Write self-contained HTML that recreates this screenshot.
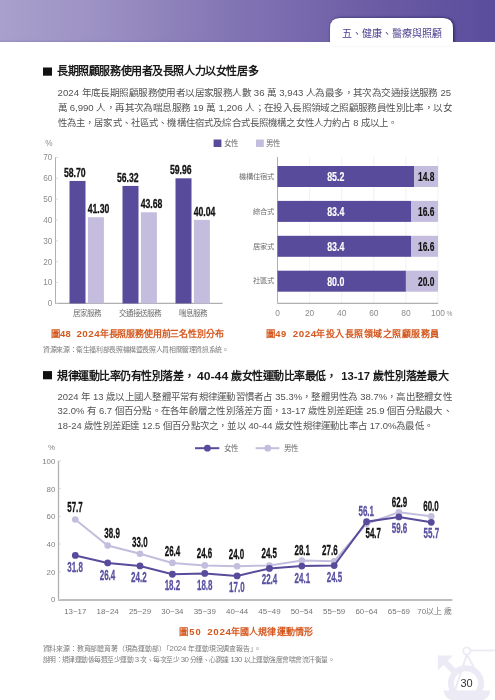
<!DOCTYPE html>
<html lang="zh-TW">
<head>
<meta charset="utf-8">
<style>
html,body{margin:0;padding:0;background:#fff;}
body{width:495px;height:700px;overflow:hidden;}
svg{display:block;font-family:"Liberation Sans", sans-serif;will-change:transform;}
</style>
</head>
<body>
<svg width="495" height="700" viewBox="0 0 495 700">
<defs>
<linearGradient id="hg" x1="0" y1="0" x2="1" y2="0">
<stop offset="0" stop-color="#a9a0cd"/><stop offset="0.2" stop-color="#9c91c3"/><stop offset="0.45" stop-color="#8477b5"/><stop offset="0.67" stop-color="#7363aa"/><stop offset="0.78" stop-color="#6a5aa4"/><stop offset="1" stop-color="#5a4d9c"/>
</linearGradient>
<filter id="sh" x="-10%" y="-30%" width="120%" height="160%"><feGaussianBlur stdDeviation="1.6"/></filter>
<filter id="sh2" x="-10%" y="-100%" width="120%" height="400%"><feGaussianBlur stdDeviation="1"/></filter>
</defs>
<rect x="0" y="0" width="495" height="42" fill="url(#hg)"/>
<rect x="0" y="41" width="495" height="2" fill="#6d5fa8" opacity="0.35" filter="url(#sh2)"/>
<path d="M330,44 V28 Q330,18 340,18 H443 Q453,18 453,28 V44 Z" fill="#1d1450" opacity="0.85" filter="url(#sh)" transform="translate(1,0)"/>
<path d="M330,44 V28 Q330,18 340,18 H443 Q453,18 453,28 V44 Z" fill="#fff"/>
<rect x="0" y="42" width="495" height="4" fill="#fff"/>
<text x="342" y="36.5" font-size="10" fill="#4a3e8c" textLength="100" lengthAdjust="spacingAndGlyphs">五、健康、醫療與照顧</text>
<rect x="43" y="67.5" width="9" height="8.2" fill="#111"/>
<text x="57.0" y="75.4" font-size="11" fill="#1a1a1a" font-weight="bold" textLength="201.6" lengthAdjust="spacing">長期照顧服務使用者及長照人力以女性居多</text>
<text x="57.6" y="95.9" font-size="9.2" fill="#525252" textLength="393.6" lengthAdjust="spacingAndGlyphs">2024 年底長期照顧服務使用者以居家服務人數 36 萬 3,943 人為最多，其次為交通接送服務 25</text>
<text x="57.6" y="110.8" font-size="9.2" fill="#525252" textLength="394.4" lengthAdjust="spacingAndGlyphs">萬 6,990 人，再其次為喘息服務 19 萬 1,206 人；在投入長照領域之照顧服務員性別比率，以女</text>
<text x="57.6" y="125.5" font-size="9.2" fill="#525252" textLength="340" lengthAdjust="spacingAndGlyphs">性為主，居家式、社區式、機構住宿式及綜合式長照機構之女性人力約占 8 成以上。</text>
<line x1="55.5" y1="157.3" x2="55.5" y2="303.4" stroke="#b0b0b0" stroke-width="1"/>
<line x1="55" y1="303.4" x2="222.6" y2="303.4" stroke="#b0b0b0" stroke-width="1.2"/>
<line x1="55.5" y1="303.40" x2="58" y2="303.40" stroke="#d0d0d0" stroke-width="0.8"/>
<text x="52.4" y="306.29999999999995" font-size="8.2" fill="#8c8c8c" text-anchor="end">0</text>
<line x1="55.5" y1="282.54" x2="58" y2="282.54" stroke="#d0d0d0" stroke-width="0.8"/>
<text x="52.4" y="285.43999999999994" font-size="8.2" fill="#8c8c8c" text-anchor="end">10</text>
<line x1="55.5" y1="261.68" x2="58" y2="261.68" stroke="#d0d0d0" stroke-width="0.8"/>
<text x="52.4" y="264.5799999999999" font-size="8.2" fill="#8c8c8c" text-anchor="end">20</text>
<line x1="55.5" y1="240.82" x2="58" y2="240.82" stroke="#d0d0d0" stroke-width="0.8"/>
<text x="52.4" y="243.72" font-size="8.2" fill="#8c8c8c" text-anchor="end">30</text>
<line x1="55.5" y1="219.96" x2="58" y2="219.96" stroke="#d0d0d0" stroke-width="0.8"/>
<text x="52.4" y="222.85999999999999" font-size="8.2" fill="#8c8c8c" text-anchor="end">40</text>
<line x1="55.5" y1="199.10" x2="58" y2="199.10" stroke="#d0d0d0" stroke-width="0.8"/>
<text x="52.4" y="201.99999999999997" font-size="8.2" fill="#8c8c8c" text-anchor="end">50</text>
<line x1="55.5" y1="178.24" x2="58" y2="178.24" stroke="#d0d0d0" stroke-width="0.8"/>
<text x="52.4" y="181.14" font-size="8.2" fill="#8c8c8c" text-anchor="end">60</text>
<line x1="55.5" y1="157.38" x2="58" y2="157.38" stroke="#d0d0d0" stroke-width="0.8"/>
<text x="52.4" y="160.28" font-size="8.2" fill="#8c8c8c" text-anchor="end">70</text>
<text x="52.6" y="146.4" font-size="8.2" fill="#8c8c8c" text-anchor="end">%</text>
<rect x="69.5" y="180.95" width="16" height="122.45" fill="#594b9b"/>
<rect x="87.9" y="217.25" width="16" height="86.15" fill="#c4bddd"/>
<text transform="translate(85.70,176.85) scale(0.64,1)" font-size="13.6" font-weight="bold" fill="#111" stroke="#111" stroke-width="0.3" text-anchor="end">58.70</text>
<text transform="translate(87.70,212.95) scale(0.64,1)" font-size="13.6" font-weight="bold" fill="#111" stroke="#111" stroke-width="0.3" text-anchor="start">41.30</text>
<text x="86.7" y="316" font-size="7.5" fill="#6e6e6e" text-anchor="middle">居家服務</text>
<rect x="122.5" y="185.92" width="16" height="117.48" fill="#594b9b"/>
<rect x="140.9" y="212.28" width="16" height="91.12" fill="#c4bddd"/>
<text transform="translate(138.70,181.82) scale(0.64,1)" font-size="13.6" font-weight="bold" fill="#111" stroke="#111" stroke-width="0.3" text-anchor="end">56.32</text>
<text transform="translate(140.70,207.98) scale(0.64,1)" font-size="13.6" font-weight="bold" fill="#111" stroke="#111" stroke-width="0.3" text-anchor="start">43.68</text>
<text x="139.7" y="316" font-size="7.5" fill="#6e6e6e" text-anchor="middle">交通接送服務</text>
<rect x="175.5" y="178.32" width="16" height="125.08" fill="#594b9b"/>
<rect x="193.9" y="219.88" width="16" height="83.52" fill="#c4bddd"/>
<text transform="translate(191.70,174.22) scale(0.64,1)" font-size="13.6" font-weight="bold" fill="#111" stroke="#111" stroke-width="0.3" text-anchor="end">59.96</text>
<text transform="translate(193.70,215.58) scale(0.64,1)" font-size="13.6" font-weight="bold" fill="#111" stroke="#111" stroke-width="0.3" text-anchor="start">40.04</text>
<text x="192.7" y="316" font-size="7.5" fill="#6e6e6e" text-anchor="middle">喘息服務</text>
<rect x="213.6" y="139.5" width="7.8" height="7.5" fill="#594b9b"/>
<text x="224" y="146.3" font-size="7.5" fill="#6e6e6e">女性</text>
<rect x="256" y="139.5" width="7.8" height="7.5" fill="#c4bddd"/>
<text x="266.3" y="146.3" font-size="7.5" fill="#6e6e6e">男性</text>
<line x1="309.60" y1="157" x2="309.60" y2="303.4" stroke="#eeeeee" stroke-width="0.8"/>
<line x1="341.70" y1="157" x2="341.70" y2="303.4" stroke="#eeeeee" stroke-width="0.8"/>
<line x1="373.80" y1="157" x2="373.80" y2="303.4" stroke="#eeeeee" stroke-width="0.8"/>
<line x1="405.90" y1="157" x2="405.90" y2="303.4" stroke="#eeeeee" stroke-width="0.8"/>
<line x1="438.00" y1="157" x2="438.00" y2="303.4" stroke="#eeeeee" stroke-width="0.8"/>
<line x1="277.5" y1="157" x2="277.5" y2="303.4" stroke="#b0b0b0" stroke-width="1"/>
<line x1="277.5" y1="303.4" x2="438" y2="303.4" stroke="#b0b0b0" stroke-width="1.2"/>
<rect x="277.5" y="166.00" width="136.75" height="21" fill="#594b9b"/>
<rect x="414.25" y="166.00" width="23.75" height="21" fill="#c4bddd"/>
<text transform="translate(335.80,181.00) scale(0.68,1)" font-size="13.0" font-weight="bold" fill="#fff" stroke="#fff" stroke-width="0.15" text-anchor="middle">85.2</text>
<text transform="translate(434.40,181.00) scale(0.65,1)" font-size="13.0" font-weight="bold" fill="#111" stroke="#111" stroke-width="0.15" text-anchor="end">14.8</text>
<text x="274.2" y="178.7" font-size="7.3" fill="#6e6e6e" text-anchor="end">機構住宿式</text>
<rect x="277.5" y="200.90" width="133.86" height="21" fill="#594b9b"/>
<rect x="411.36" y="200.90" width="26.64" height="21" fill="#c4bddd"/>
<text transform="translate(335.80,215.90) scale(0.68,1)" font-size="13.0" font-weight="bold" fill="#fff" stroke="#fff" stroke-width="0.15" text-anchor="middle">83.4</text>
<text transform="translate(434.40,215.90) scale(0.65,1)" font-size="13.0" font-weight="bold" fill="#111" stroke="#111" stroke-width="0.15" text-anchor="end">16.6</text>
<text x="274.2" y="213.6" font-size="7.3" fill="#6e6e6e" text-anchor="end">綜合式</text>
<rect x="277.5" y="235.80" width="133.86" height="21" fill="#594b9b"/>
<rect x="411.36" y="235.80" width="26.64" height="21" fill="#c4bddd"/>
<text transform="translate(335.80,250.80) scale(0.68,1)" font-size="13.0" font-weight="bold" fill="#fff" stroke="#fff" stroke-width="0.15" text-anchor="middle">83.4</text>
<text transform="translate(434.40,250.80) scale(0.65,1)" font-size="13.0" font-weight="bold" fill="#111" stroke="#111" stroke-width="0.15" text-anchor="end">16.6</text>
<text x="274.2" y="248.5" font-size="7.3" fill="#6e6e6e" text-anchor="end">居家式</text>
<rect x="277.5" y="270.70" width="128.40" height="21" fill="#594b9b"/>
<rect x="405.90" y="270.70" width="32.10" height="21" fill="#c4bddd"/>
<text transform="translate(335.80,285.70) scale(0.68,1)" font-size="13.0" font-weight="bold" fill="#fff" stroke="#fff" stroke-width="0.15" text-anchor="middle">80.0</text>
<text transform="translate(434.40,285.70) scale(0.65,1)" font-size="13.0" font-weight="bold" fill="#111" stroke="#111" stroke-width="0.15" text-anchor="end">20.0</text>
<text x="274.2" y="283.4" font-size="7.3" fill="#6e6e6e" text-anchor="end">社區式</text>
<text x="277.5" y="316.4" font-size="8.4" fill="#8c8c8c" text-anchor="middle">0</text>
<text x="309.6" y="316.4" font-size="8.4" fill="#8c8c8c" text-anchor="middle">20</text>
<text x="341.7" y="316.4" font-size="8.4" fill="#8c8c8c" text-anchor="middle">40</text>
<text x="373.8" y="316.4" font-size="8.4" fill="#8c8c8c" text-anchor="middle">60</text>
<text x="405.9" y="316.4" font-size="8.4" fill="#8c8c8c" text-anchor="middle">80</text>
<text x="438.0" y="316.4" font-size="8.4" fill="#8c8c8c" text-anchor="middle">100</text>
<text x="446.6" y="316.4" font-size="6.6" fill="#8c8c8c">%</text>
<text x="51" y="336.6" font-size="9.4" fill="#d5581e" font-weight="bold" textLength="19.6" lengthAdjust="spacing">圖48</text>
<text x="76.4" y="336.6" font-size="9.8" fill="#d5581e" font-weight="bold" textLength="23.2" lengthAdjust="spacing">2024</text>
<text x="99.8" y="336.6" font-size="9" fill="#d5581e" font-weight="bold" textLength="123.7" lengthAdjust="spacing">年長照服務使用前三名性別分布</text>
<text x="265.8" y="336.6" font-size="9.4" fill="#d5581e" font-weight="bold" textLength="20.4" lengthAdjust="spacing">圖49</text>
<text x="292.8" y="336.6" font-size="9.8" fill="#d5581e" font-weight="bold" textLength="23.3" lengthAdjust="spacing">2024</text>
<text x="316.3" y="336.6" font-size="9" fill="#d5581e" font-weight="bold" textLength="122.9" lengthAdjust="spacing">年投入長照領域之照顧服務員</text>
<text x="43" y="351.8" font-size="6.9" fill="#7a7a7a" textLength="186" lengthAdjust="spacing">資源來源：衛生福利部長照機構暨長照人員相關管理資訊系統。</text>
<rect x="43" y="371.1" width="9" height="8.2" fill="#111"/>
<text x="57.0" y="379.6" font-size="11" fill="#1a1a1a" font-weight="bold" textLength="126.6" lengthAdjust="spacing">規律運動比率仍有性別落差</text>
<text x="184.0" y="379.6" font-size="11" fill="#1a1a1a" font-weight="bold">，</text>
<text x="197.0" y="379.6" font-size="11.2" fill="#1a1a1a" font-weight="bold" textLength="31.2" lengthAdjust="spacingAndGlyphs">40-44</text>
<text x="231.3" y="379.6" font-size="11" fill="#1a1a1a" font-weight="bold" textLength="94.9" lengthAdjust="spacing">歲女性運動比率最低</text>
<text x="325.8" y="379.6" font-size="11" fill="#1a1a1a" font-weight="bold">，</text>
<text x="341.2" y="379.6" font-size="11.2" fill="#1a1a1a" font-weight="bold" textLength="28.8" lengthAdjust="spacingAndGlyphs">13-17</text>
<text x="373.4" y="379.6" font-size="11" fill="#1a1a1a" font-weight="bold" textLength="75.6" lengthAdjust="spacing">歲性別落差最大</text>
<text x="57.6" y="399.7" font-size="9.2" fill="#525252" textLength="394.2" lengthAdjust="spacingAndGlyphs">2024 年 13 歲以上國人整體平常有規律運動習慣者占 35.3%，整體男性為 38.7%，高出整體女性</text>
<text x="57.6" y="414.4" font-size="9.2" fill="#525252" textLength="394.4" lengthAdjust="spacingAndGlyphs">32.0% 有 6.7 個百分點。在各年齡層之性別落差方面，13-17 歲性別差距達 25.9 個百分點最大、</text>
<text x="57.6" y="429.1" font-size="9.2" fill="#525252" textLength="375.5" lengthAdjust="spacingAndGlyphs">18-24 歲性別差距達 12.5 個百分點次之，並以 40-44 歲女性規律運動比率占 17.0%為最低。</text>
<line x1="58.5" y1="460.9" x2="58.5" y2="599.5" stroke="#b0b0b0" stroke-width="1.3"/>
<line x1="58" y1="599.9" x2="452.3" y2="599.9" stroke="#bdbdbd" stroke-width="2"/>
<line x1="58.5" y1="599.50" x2="61" y2="599.50" stroke="#d0d0d0" stroke-width="0.8"/>
<text x="55.4" y="602.4" font-size="7.9" fill="#808080" text-anchor="end">0</text>
<line x1="58.5" y1="571.78" x2="61" y2="571.78" stroke="#d0d0d0" stroke-width="0.8"/>
<text x="55.4" y="574.68" font-size="7.9" fill="#808080" text-anchor="end">20</text>
<line x1="58.5" y1="544.06" x2="61" y2="544.06" stroke="#d0d0d0" stroke-width="0.8"/>
<text x="55.4" y="546.9599999999999" font-size="7.9" fill="#808080" text-anchor="end">40</text>
<line x1="58.5" y1="516.34" x2="61" y2="516.34" stroke="#d0d0d0" stroke-width="0.8"/>
<text x="55.4" y="519.24" font-size="7.9" fill="#808080" text-anchor="end">60</text>
<line x1="58.5" y1="488.62" x2="61" y2="488.62" stroke="#d0d0d0" stroke-width="0.8"/>
<text x="55.4" y="491.52" font-size="7.9" fill="#808080" text-anchor="end">80</text>
<line x1="58.5" y1="460.90" x2="61" y2="460.90" stroke="#d0d0d0" stroke-width="0.8"/>
<text x="55.4" y="463.79999999999995" font-size="7.9" fill="#808080" text-anchor="end">100</text>
<text x="55" y="450.3" font-size="7.9" fill="#808080" text-anchor="end">%</text>
<polyline points="75.30,519.53 107.66,545.58 140.02,553.76 172.38,562.91 204.74,565.40 237.10,566.24 269.46,565.54 301.82,560.55 334.18,561.25 366.54,523.69 398.90,512.32 431.26,516.34" fill="none" stroke="#c4bddd" stroke-width="2"/>
<circle cx="75.30" cy="519.53" r="3.3" fill="#c4bddd"/>
<circle cx="107.66" cy="545.58" r="3.3" fill="#c4bddd"/>
<circle cx="140.02" cy="553.76" r="3.3" fill="#c4bddd"/>
<circle cx="172.38" cy="562.91" r="3.3" fill="#c4bddd"/>
<circle cx="204.74" cy="565.40" r="3.3" fill="#c4bddd"/>
<circle cx="237.10" cy="566.24" r="3.3" fill="#c4bddd"/>
<circle cx="269.46" cy="565.54" r="3.3" fill="#c4bddd"/>
<circle cx="301.82" cy="560.55" r="3.3" fill="#c4bddd"/>
<circle cx="334.18" cy="561.25" r="3.3" fill="#c4bddd"/>
<circle cx="366.54" cy="523.69" r="3.3" fill="#c4bddd"/>
<circle cx="398.90" cy="512.32" r="3.3" fill="#c4bddd"/>
<circle cx="431.26" cy="516.34" r="3.3" fill="#c4bddd"/>
<polyline points="75.30,555.43 107.66,562.91 140.02,565.96 172.38,574.27 204.74,573.44 237.10,575.94 269.46,568.45 301.82,566.10 334.18,565.54 366.54,521.75 398.90,516.89 431.26,522.30" fill="none" stroke="#594b9b" stroke-width="2"/>
<circle cx="75.30" cy="555.43" r="3.4" fill="#594b9b"/>
<circle cx="107.66" cy="562.91" r="3.4" fill="#594b9b"/>
<circle cx="140.02" cy="565.96" r="3.4" fill="#594b9b"/>
<circle cx="172.38" cy="574.27" r="3.4" fill="#594b9b"/>
<circle cx="204.74" cy="573.44" r="3.4" fill="#594b9b"/>
<circle cx="237.10" cy="575.94" r="3.4" fill="#594b9b"/>
<circle cx="269.46" cy="568.45" r="3.4" fill="#594b9b"/>
<circle cx="301.82" cy="566.10" r="3.4" fill="#594b9b"/>
<circle cx="334.18" cy="565.54" r="3.4" fill="#594b9b"/>
<circle cx="366.54" cy="521.75" r="3.4" fill="#594b9b"/>
<circle cx="398.90" cy="516.89" r="3.4" fill="#594b9b"/>
<circle cx="431.26" cy="522.30" r="3.4" fill="#594b9b"/>
<text transform="translate(75.00,512.00) scale(0.57,1)" font-size="14" font-weight="bold" fill="#111" stroke="#111" stroke-width="0.3" text-anchor="middle">57.7</text>
<text transform="translate(75.10,572.10) scale(0.57,1)" font-size="14" font-weight="bold" fill="#5951a0" stroke="#5951a0" stroke-width="0.3" text-anchor="middle">31.8</text>
<text x="75.3" y="614.4" font-size="7.9" fill="#747474" text-anchor="middle">13~17</text>
<text transform="translate(112.10,538.40) scale(0.57,1)" font-size="14" font-weight="bold" fill="#111" stroke="#111" stroke-width="0.3" text-anchor="middle">38.9</text>
<text transform="translate(107.50,579.60) scale(0.57,1)" font-size="14" font-weight="bold" fill="#5951a0" stroke="#5951a0" stroke-width="0.3" text-anchor="middle">26.4</text>
<text x="107.66" y="614.4" font-size="7.9" fill="#747474" text-anchor="middle">18~24</text>
<text transform="translate(139.80,546.80) scale(0.57,1)" font-size="14" font-weight="bold" fill="#111" stroke="#111" stroke-width="0.3" text-anchor="middle">33.0</text>
<text transform="translate(138.80,582.20) scale(0.57,1)" font-size="14" font-weight="bold" fill="#5951a0" stroke="#5951a0" stroke-width="0.3" text-anchor="middle">24.2</text>
<text x="140.01999999999998" y="614.4" font-size="7.9" fill="#747474" text-anchor="middle">25~29</text>
<text transform="translate(172.50,556.40) scale(0.57,1)" font-size="14" font-weight="bold" fill="#111" stroke="#111" stroke-width="0.3" text-anchor="middle">26.4</text>
<text transform="translate(172.40,590.20) scale(0.57,1)" font-size="14" font-weight="bold" fill="#5951a0" stroke="#5951a0" stroke-width="0.3" text-anchor="middle">18.2</text>
<text x="172.38" y="614.4" font-size="7.9" fill="#747474" text-anchor="middle">30~34</text>
<text transform="translate(204.50,558.40) scale(0.57,1)" font-size="14" font-weight="bold" fill="#111" stroke="#111" stroke-width="0.3" text-anchor="middle">24.6</text>
<text transform="translate(204.70,590.20) scale(0.57,1)" font-size="14" font-weight="bold" fill="#5951a0" stroke="#5951a0" stroke-width="0.3" text-anchor="middle">18.8</text>
<text x="204.74" y="614.4" font-size="7.9" fill="#747474" text-anchor="middle">35~39</text>
<text transform="translate(236.50,559.20) scale(0.57,1)" font-size="14" font-weight="bold" fill="#111" stroke="#111" stroke-width="0.3" text-anchor="middle">24.0</text>
<text transform="translate(236.80,591.60) scale(0.57,1)" font-size="14" font-weight="bold" fill="#5951a0" stroke="#5951a0" stroke-width="0.3" text-anchor="middle">17.0</text>
<text x="237.10000000000002" y="614.4" font-size="7.9" fill="#747474" text-anchor="middle">40~44</text>
<text transform="translate(269.20,557.80) scale(0.57,1)" font-size="14" font-weight="bold" fill="#111" stroke="#111" stroke-width="0.3" text-anchor="middle">24.5</text>
<text transform="translate(269.50,584.10) scale(0.57,1)" font-size="14" font-weight="bold" fill="#5951a0" stroke="#5951a0" stroke-width="0.3" text-anchor="middle">22.4</text>
<text x="269.46" y="614.4" font-size="7.9" fill="#747474" text-anchor="middle">45~49</text>
<text transform="translate(302.20,554.80) scale(0.57,1)" font-size="14" font-weight="bold" fill="#111" stroke="#111" stroke-width="0.3" text-anchor="middle">28.1</text>
<text transform="translate(302.30,583.10) scale(0.57,1)" font-size="14" font-weight="bold" fill="#5951a0" stroke="#5951a0" stroke-width="0.3" text-anchor="middle">24.1</text>
<text x="301.82" y="614.4" font-size="7.9" fill="#747474" text-anchor="middle">50~54</text>
<text transform="translate(329.80,554.80) scale(0.57,1)" font-size="14" font-weight="bold" fill="#111" stroke="#111" stroke-width="0.3" text-anchor="middle">27.6</text>
<text transform="translate(334.50,582.10) scale(0.57,1)" font-size="14" font-weight="bold" fill="#5951a0" stroke="#5951a0" stroke-width="0.3" text-anchor="middle">24.5</text>
<text x="334.18" y="614.4" font-size="7.9" fill="#747474" text-anchor="middle">55~59</text>
<text transform="translate(373.20,538.10) scale(0.57,1)" font-size="14" font-weight="bold" fill="#111" stroke="#111" stroke-width="0.3" text-anchor="middle">54.7</text>
<text transform="translate(366.20,515.50) scale(0.57,1)" font-size="14" font-weight="bold" fill="#5951a0" stroke="#5951a0" stroke-width="0.3" text-anchor="middle">56.1</text>
<text x="366.54" y="614.4" font-size="7.9" fill="#747474" text-anchor="middle">60~64</text>
<text transform="translate(399.50,506.80) scale(0.57,1)" font-size="14" font-weight="bold" fill="#111" stroke="#111" stroke-width="0.3" text-anchor="middle">62.9</text>
<text transform="translate(399.50,533.00) scale(0.57,1)" font-size="14" font-weight="bold" fill="#5951a0" stroke="#5951a0" stroke-width="0.3" text-anchor="middle">59.6</text>
<text x="398.90000000000003" y="614.4" font-size="7.9" fill="#747474" text-anchor="middle">65~69</text>
<text transform="translate(431.00,510.60) scale(0.57,1)" font-size="14" font-weight="bold" fill="#111" stroke="#111" stroke-width="0.3" text-anchor="middle">60.0</text>
<text transform="translate(431.30,538.10) scale(0.57,1)" font-size="14" font-weight="bold" fill="#5951a0" stroke="#5951a0" stroke-width="0.3" text-anchor="middle">55.7</text>
<text x="429.65999999999997" y="614.4" font-size="7.9" fill="#747474" text-anchor="middle">70以上</text>
<text x="444.3" y="614.4" font-size="7.7" fill="#747474">歲</text>
<line x1="195" y1="448.2" x2="219.3" y2="448.2" stroke="#594b9b" stroke-width="2"/>
<circle cx="207.4" cy="448.2" r="3.4" fill="#594b9b"/>
<text x="223.6" y="451" font-size="7.5" fill="#6e6e6e">女性</text>
<line x1="255.6" y1="448.2" x2="279.4" y2="448.2" stroke="#c4bddd" stroke-width="2"/>
<circle cx="267.8" cy="448.2" r="3.4" fill="#c4bddd"/>
<text x="284.2" y="451" font-size="7.5" fill="#6e6e6e">男性</text>
<text x="179" y="635" font-size="9.4" fill="#d5581e" font-weight="bold" textLength="21.8" lengthAdjust="spacing">圖50</text>
<text x="207.3" y="635" font-size="9.8" fill="#d5581e" font-weight="bold" textLength="23.6" lengthAdjust="spacing">2024</text>
<text x="230.7" y="635" font-size="9" fill="#d5581e" font-weight="bold" textLength="82.3" lengthAdjust="spacing">年國人規律運動情形</text>
<text x="42.6" y="651.3" font-size="6.9" fill="#7a7a7a" textLength="218" lengthAdjust="spacing">資料來源：教育部體育署（現為運動部）「<tspan font-size="7.8">2024 </tspan>年運動現況調查報告」。</text>
<text x="42.6" y="662.2" font-size="6.8" fill="#7a7a7a" textLength="292" lengthAdjust="spacing">說明：規律運動係每週至少運動<tspan font-size="7.8"> 3 </tspan>次、每次至少<tspan font-size="7.8"> 30 </tspan>分鐘、心跳達<tspan font-size="7.8"> 130 </tspan>以上運動強度會喘會流汗衡量。</text>
<g fill="none" stroke="#eceaf4">
<circle cx="466" cy="683.2" r="15" stroke-width="6"/>
<line x1="454.5" y1="671.7" x2="442" y2="659.2" stroke-width="6"/>
<circle cx="466.8" cy="651" r="3.6" stroke-width="1.8"/>
<path d="M470.4,650.5 H495" stroke-width="1.8"/>
<path d="M466.8,654.6 L455.3,689.5 M466.8,654.6 L474,667.5" stroke-width="2"/>
</g>
<path d="M437.8,655.5 L453,655.5 L437.8,670.5 Z" fill="#eceaf4"/>
<path d="M443.5,690.5 H490.5 Q489,699 481,700.5 H453 Q445,699 443.5,690.5 Z" fill="#eceaf4"/>
<text x="466.6" y="687" font-size="11" fill="#333" text-anchor="middle">30</text>
</svg>
</body>
</html>
